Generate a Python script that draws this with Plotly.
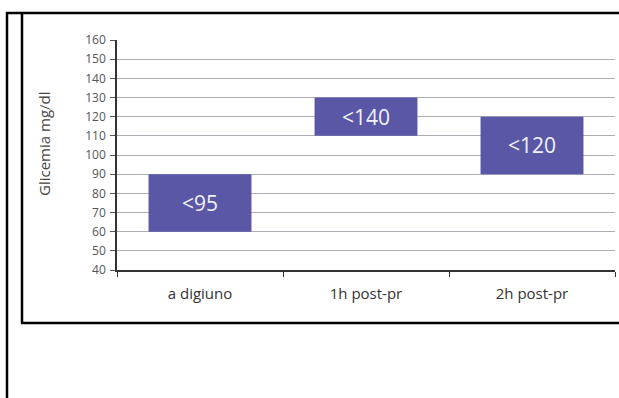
import plotly.graph_objects as go

categories = ["a digiuno", "1h post-pr", "2h post-pr"]
low_values = [60, 110, 90]
high_values = [90, 130, 120]
bar_labels = ["<95", "<140", "<120"]
y_ticks = [40, 50, 60, 70, 80, 90, 100, 110, 120, 130, 140, 150, 160]

W, H = 619, 398
L, R, T, B = 117, 4, 40, 128
pw = W - L - R
ph = H - T - B

def px(x):
    return (x - L) / pw

def py(y):
    return (H - B - y) / ph

font_fam = "Open Sans"

fig = go.Figure()
fig.add_trace(go.Bar(
    x=categories,
    y=[h - l for h, l in zip(high_values, low_values)],
    base=low_values,
    width=0.62,
    marker=dict(color="#5957a6", line=dict(width=0)),
    text=bar_labels,
    textposition="inside",
    insidetextanchor="middle",
    textfont=dict(color="#f2f2f8", size=21, family=font_fam),
    hoverinfo="skip",
))

fig.update_layout(
    width=W, height=H,
    margin=dict(l=L, r=R, t=T, b=B),
    paper_bgcolor="white",
    plot_bgcolor="white",
    showlegend=False,
    xaxis=dict(
        type="category",
        tickson="boundaries",
        ticks="outside",
        ticklen=5,
        tickcolor="#333",
        showline=True,
        linecolor="#333",
        linewidth=1.5,
        showgrid=False,
        tickfont=dict(size=15, color="#333", family=font_fam),
        ticklabelstandoff=9,
        fixedrange=True,
    ),
    yaxis=dict(
        range=[40, 160],
        tickvals=y_ticks,
        ticks="outside",
        ticklen=5,
        tickcolor="#555",
        showline=True,
        linecolor="#333",
        linewidth=1.5,
        showgrid=True,
        gridcolor="#b0acb6",
        gridwidth=1,
        zeroline=False,
        tickfont=dict(size=12, color="#555", family=font_fam),
        ticklabelstandoff=2,
        fixedrange=True,
    ),
    annotations=[dict(
        text="Glicemia mg/dl",
        xref="paper", yref="paper",
        x=px(44), y=py(144),
        textangle=-90,
        showarrow=False,
        font=dict(size=15, color="#444", family=font_fam),
        xanchor="center", yanchor="middle",
    )],
)

border = dict(color="black", width=2.5)
shapes = [
    dict(type="line", xref="paper", yref="paper", x0=px(7), x1=px(7), y0=py(12), y1=py(400), line=border),
    dict(type="line", xref="paper", yref="paper", x0=px(6), x1=px(622), y0=py(13), y1=py(13), line=border),
    dict(type="line", xref="paper", yref="paper", x0=px(22), x1=px(22), y0=py(13), y1=py(323), line=border),
    dict(type="line", xref="paper", yref="paper", x0=px(21), x1=px(622), y0=py(323), y1=py(323), line=border),
]
fig.update_layout(shapes=shapes)

fig.write_html("out.html")
